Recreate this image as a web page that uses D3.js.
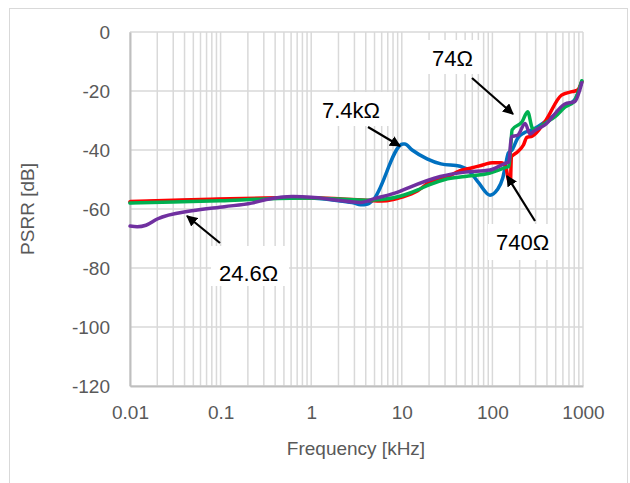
<!DOCTYPE html>
<html><head><meta charset="utf-8">
<script src="https://cdn.jsdelivr.net/npm/d3@7"></script>
<style>
html,body{margin:0;padding:0;background:#fff;}
svg{display:block;font-family:"Liberation Sans",Arial,sans-serif;}
</style></head>
<body><svg id="c" width="630" height="483"></svg>
<script>
// ---- data ----
const xTicks = [0.01, 0.1, 1, 10, 100, 1000];
const xTickLabels = ["0.01", "0.1", "1", "10", "100", "1000"];
const yTicks = [0, -20, -40, -60, -80, -100, -120];
const yTickLabels = ["0", "-20", "-40", "-60", "-80", "-100", "-120"];

const blueF  = [0.01,0.02,0.05,0.1,0.3,0.6,1,2,3,3.5,4.2,4.8,10.3,10.8,13,19,27,44,56,70,94,113,130,140,150,165,190,220,275,400,630,810,970];
const blueDB = [-57.8,-57.4,-57,-56.8,-56.5,-56,-56.3,-57.2,-58,-58.6,-58.3,-57,-38,-38,-40,-43,-44.7,-45.5,-47.3,-51,-55.3,-53.5,-49.5,-45,-41,-40,-36,-34.3,-33.2,-30,-25.3,-23,-16.8];

const redF  = [0.01,0.03,0.1,0.3,1,2,4,6,8,10,15,20,30,44,60,80,100,125,140,150,158,162,170,190,220,240,275,380,580,760,870,970];
const redDB = [-57.5,-57,-56.6,-56.3,-56.2,-56.5,-57,-57.3,-56.8,-56,-53.8,-51,-49.5,-47,-46,-45,-44.3,-44.3,-45.5,-50,-51,-42.3,-41.7,-40.6,-38.3,-35.7,-35.3,-30.4,-21.4,-20.2,-19.7,-16.8];

const greenF  = [0.01,0.03,0.1,0.3,1,2,4,6,10,15,20,30,50,94,138,152,160,165,213,245,275,290,400,500,630,800,970];
const greenDB = [-58,-57.6,-57.2,-56.6,-56.3,-56.6,-57,-56.8,-55.5,-53.5,-51.8,-50,-49,-47.8,-46,-45.6,-38,-33.2,-30.4,-27,-32.5,-33,-30.5,-28.5,-25.5,-23.5,-16.5];

const purpleF  = [0.01,0.012,0.015,0.02,0.048,0.11,0.22,0.32,0.63,1,1.94,3.5,5,9.5,11.4,26.6,50,94,138,152,162,190,230,260,290,380,630,810,970];
const purpleDB = [-65.8,-66,-65.5,-63.4,-60.6,-59.2,-58,-56.8,-55.8,-56,-57,-57.8,-56.5,-54,-53,-49,-47.5,-46.8,-44.5,-44,-35.5,-35,-31,-34.6,-33.5,-31.5,-24.4,-23.6,-17.2];

const seriesNames = ["7.4kΩ","740Ω","74Ω","24.6Ω"];
const seriesColors = ["#0070C0","#FF0000","#00B050","#7030A0"];

// ---- layout ----
const svg = d3.select("#c");
const L = 130, R = 583, T = 32, B = 386;
const x = d3.scaleLog().domain([0.01, 1000]).range([L, R]);
const y = d3.scaleLinear().domain([-120, 0]).range([B, T]);

// outer chart border
svg.append("rect").attr("x", 9.5).attr("y", 8.5).attr("width", 618).attr("height", 500)
  .attr("fill", "#fff").attr("stroke", "#d9d9d9").attr("stroke-width", 1);

// gridlines
const grid = svg.append("g");
const minor = [];
for (let d = -2; d < 3; d++) for (let m = 1; m <= 9; m++) minor.push(m * Math.pow(10, d));
minor.push(1000);
grid.selectAll("line.v").data(minor).join("line")
  .attr("x1", d => x(d)).attr("x2", d => x(d)).attr("y1", T).attr("y2", B)
  .attr("stroke", "#d9d9d9").attr("stroke-width", 1.5);
grid.selectAll("line.h").data(yTicks).join("line")
  .attr("x1", L).attr("x2", R).attr("y1", d => y(d)).attr("y2", d => y(d))
  .attr("stroke", "#d9d9d9").attr("stroke-width", 1.5);

// axes
const xAxis = d3.axisBottom(x).tickValues(xTicks).tickFormat((d, i) => xTickLabels[i]).tickSize(0).tickPadding(20);
const gx = svg.append("g").attr("transform", `translate(0,${B})`).call(xAxis);
gx.select(".domain").attr("stroke", "#bfbfbf").attr("stroke-width", 2);
gx.selectAll("text").attr("font-size", 19).attr("fill", "#595959").attr("font-family", "Liberation Sans, Arial, sans-serif");

const yAxis = d3.axisLeft(y).tickValues(yTicks).tickFormat((d, i) => yTickLabels[i]).tickSize(0).tickPadding(20);
const gy = svg.append("g").attr("transform", `translate(${L},0)`).call(yAxis);
gy.select(".domain").attr("stroke", "#bfbfbf").attr("stroke-width", 2);
gy.selectAll("text").attr("font-size", 19).attr("fill", "#595959").attr("font-family", "Liberation Sans, Arial, sans-serif");

svg.append("text").attr("x", 356).attr("y", 455).attr("text-anchor", "middle")
  .attr("font-size", 19).attr("fill", "#595959").text("Frequency [kHz]");
svg.append("text").attr("transform", "translate(34,209) rotate(-90)").attr("text-anchor", "middle")
  .attr("font-size", 19).attr("fill", "#595959").text("PSRR [dB]");

// series
const all = [[blueF, blueDB], [redF, redDB], [greenF, greenDB], [purpleF, purpleDB]];
const line = d3.line().x(d => x(d[0])).y(d => y(d[1])).curve(d3.curveMonotoneX);
all.forEach((s, i) => {
  const pts = s[0].map((f, k) => [f, s[1][k]]);
  svg.append("path").datum(pts).attr("d", line).attr("fill", "none")
    .attr("stroke", seriesColors[i]).attr("stroke-width", 3.5)
    .attr("stroke-linejoin", "round").attr("stroke-linecap", "round");
});

// annotations
const defs = svg.append("defs");
defs.append("marker").attr("id", "ah").attr("viewBox", "0 0 10 10").attr("refX", 9).attr("refY", 5)
  .attr("markerWidth", 5).attr("markerHeight", 5).attr("orient", "auto").attr("markerUnits", "strokeWidth")
  .append("path").attr("d", "M0,0 L10,5 L0,10 z").attr("fill", "#000");

const notes = [
  {t: "7.4kΩ", tx: 322, ty: 118, bx: 314, by: 92, bw: 78, bh: 34, ax1: 368, ay1: 127, ax2: 400, ay2: 146},
  {t: "74Ω", tx: 432, ty: 66, bx: 424, by: 40, bw: 56, bh: 34, ax1: 472, ay1: 78, ax2: 513, ay2: 114},
  {t: "740Ω", tx: 496, ty: 250, bx: 488, by: 224, bw: 66, bh: 36, ax1: 535, ay1: 221, ax2: 507, ay2: 176},
  {t: "24.6Ω", tx: 219, ty: 281, bx: 211, by: 246, bw: 78, bh: 40, ax1: 220, ay1: 243, ax2: 187, ay2: 216}
];
notes.forEach(n => {
  svg.append("rect").attr("x", n.bx).attr("y", n.by).attr("width", n.bw).attr("height", n.bh).attr("fill", "#fff");
  svg.append("text").attr("x", n.tx).attr("y", n.ty).attr("font-size", 22).attr("fill", "#000").text(n.t);
  svg.append("line").attr("x1", n.ax1).attr("y1", n.ay1).attr("x2", n.ax2).attr("y2", n.ay2)
    .attr("stroke", "#000").attr("stroke-width", 2.2).attr("marker-end", "url(#ah)");
});
</script>
</body></html>
